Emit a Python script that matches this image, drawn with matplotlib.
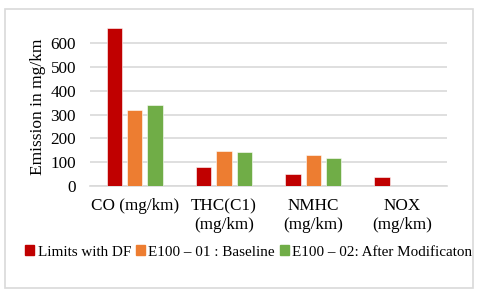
import numpy as np
import matplotlib
matplotlib.use('Agg')
import matplotlib.pyplot as plt
from matplotlib.patches import Rectangle, Patch

# ── Data ──────────────────────────────────────────────────────────────────────
categories = ['CO (mg/km)', 'THC(C1)\n(mg/km)', 'NMHC\n(mg/km)', 'NOX\n(mg/km)']
limits_df = [666, 79, 50, 38]
baseline = [318, 147, 130, np.nan]
modified = [342, 142, 118, np.nan]
series_names = ['Limits with DF', 'E100 – 01 : Baseline', 'E100 – 02: After Modificaton']
colors = ['#C00000', '#ED7D31', '#70AD47']
yticks = [0, 100, 200, 300, 400, 500, 600]

plt.rcParams['font.family'] = ['Liberation Serif', 'DejaVu Serif']

fig = plt.figure(figsize=(4.8, 3.0), dpi=100)
ax = fig.add_axes([0.1875, 0.38, 0.744, 0.531])

x = np.arange(len(categories))
w = 0.172
step = w + 0.056
for i, (vals, col, name) in enumerate(zip([limits_df, baseline, modified], colors, series_names)):
    ax.bar(x + (i - 1) * step, vals, width=w, color=col, edgecolor='white',
           linewidth=0.4, label=name, zorder=3)

ax.set_xlim(-0.5, len(categories) - 0.5)
ax.set_ylim(0, 670)
ax.set_yticks(yticks)
ax.set_xticks(x)
ax.set_xticklabels(categories, fontsize=12.3, linespacing=1.2)
ax.tick_params(axis='y', labelsize=12.3, length=0, pad=10)
ax.tick_params(axis='x', length=0, pad=9)
ax.set_ylabel('Emission in mg/km', fontsize=12.5, labelpad=3)
ax.grid(axis='y', color='#D9D9D9', lw=1.2, zorder=0)
for s in ['top', 'right', 'left']:
    ax.spines[s].set_visible(False)
ax.spines['bottom'].set_color('#D9D9D9')
ax.spines['bottom'].set_linewidth(1.2)

handles = [Patch(color=c) for c in colors]
fig.legend(handles, series_names, loc='center', bbox_to_anchor=(0.518, 0.16),
           ncol=3, frameon=False, fontsize=10.9, handlelength=0.6, handleheight=0.6,
           handletextpad=0.25, columnspacing=0.3, borderaxespad=0)

# chart border
fig.add_artist(Rectangle((5 / 480, 1 - 288 / 300), 468 / 480, 279 / 300,
                         transform=fig.transFigure, fill=False,
                         edgecolor='#D9D9D9', lw=1.2))

fig.savefig('out.png', dpi=100)
